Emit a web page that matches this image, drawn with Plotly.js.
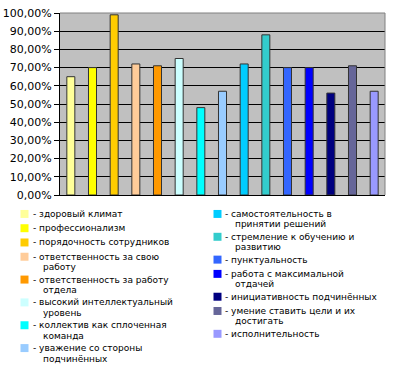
<!DOCTYPE html>
<html>
<head>
<meta charset="utf-8">
<script src="https://cdn.plot.ly/plotly-3.0.1.min.js"></script>
<style>html,body{margin:0;padding:0;background:#fff;}#chart{width:394px;height:375px;}</style>
</head>
<body>
<div id="chart"></div>
<script>
// Data
var categories = [
  "здоровый климат",
  "профессионализм",
  "порядочность сотрудников",
  "ответственность за свою работу",
  "ответственность за работу отдела",
  "высокий интеллектуальный уровень",
  "коллектив как сплоченная команда",
  "уважение со стороны подчинённых",
  "самостоятельность в принятии решений",
  "стремление к обучению и развитию",
  "пунктуальность",
  "работа с максимальной отдачей",
  "инициативность подчинённых",
  "умение ставить цели и их достигать",
  "исполнительность"
];
var values = [0.65, 0.70, 0.99, 0.72, 0.71, 0.75, 0.48, 0.57, 0.72, 0.88, 0.70, 0.70, 0.56, 0.71, 0.57];
var colors = ["#FFFF99", "#FFFF00", "#FFCC00", "#FFCC99", "#FF9900", "#CCFFFF", "#00FFFF", "#99CCFF",
              "#00CCFF", "#33CCCC", "#3366FF", "#0000FF", "#000080", "#666699", "#9999FF"];
// Legend label lines (as wrapped in the reference)
var legendLines = [
  ["- здоровый климат"],
  ["- профессионализм"],
  ["- порядочность сотрудников"],
  ["- ответственность за свою", "работу"],
  ["- ответственность за работу", "отдела"],
  ["- высокий интеллектуальный", "уровень"],
  ["- коллектив как сплоченная", "команда"],
  ["- уважение со стороны", "подчинённых"],
  ["- самостоятельность в", "принятии решений"],
  ["- стремление к обучению и", "развитию"],
  ["- пунктуальность"],
  ["- работа с максимальной", "отдачей"],
  ["- инициативность подчинённых"],
  ["- умение ставить цели и их", "достигать"],
  ["- исполнительность"]
];
var yTicks = [0, 0.1, 0.2, 0.3, 0.4, 0.5, 0.6, 0.7, 0.8, 0.9, 1.0];

// Layout geometry
var W = 394, H = 375, L = 60, R = 9, T = 12.5, B = 180;
var pw = W - L - R, ph = H - T - B;
function px2x(px) { return (px - L) / pw; }
function py2y(py) { return (H - B - py) / ph; }

var font = "DejaVu Sans, Verdana, sans-serif";
var annotations = [], shapes = [];

// plot border (top/right gray)
shapes.push({type: "line", xref: "paper", yref: "paper", x0: 0, x1: 1, y0: 1, y1: 1, line: {color: "#808080", width: 1}, layer: "above"});
shapes.push({type: "line", xref: "paper", yref: "paper", x0: 1, x1: 1, y0: 0, y1: 1, line: {color: "#808080", width: 1}, layer: "above"});

// custom two-column legend
var cols = [{n: 8, mx: 24.5, tx: 33, y0: 214}, {n: 7, mx: 217.5, tx: 225, y0: 214}];
var idx = 0;
cols.forEach(function (c) {
  var y = c.y0;
  for (var k = 0; k < c.n; k++, idx++) {
    var lines = legendLines[idx];
    shapes.push({type: "rect", xref: "paper", yref: "paper",
      x0: px2x(c.mx - 4), x1: px2x(c.mx + 4), y0: py2y(y + 4), y1: py2y(y - 4),
      fillcolor: colors[idx], line: {width: 0}});
    lines.forEach(function (t, j) {
      annotations.push({xref: "paper", yref: "paper", x: px2x(c.tx - 2 + (j ? 10 : 0)), y: py2y(y + j * 10.5),
        xanchor: "left", yanchor: "middle", showarrow: false, text: t,
        font: {family: font, size: 9, color: "#000"}});
    });
    y += 14.3 + 8.6 * (lines.length - 1);
  }
});

var trace = {
  type: "bar",
  x: categories,
  y: values,
  width: 0.37,
  marker: {color: colors, line: {color: "#333333", width: 1}},
  hoverinfo: "none"
};

var layout = {
  width: W, height: H,
  margin: {l: L, r: R, t: T, b: B, pad: 0},
  paper_bgcolor: "#ffffff",
  plot_bgcolor: "#C0C0C0",
  separators: ", ",
  showlegend: false,
  xaxis: {type: "category", categoryorder: "array", categoryarray: categories,
    range: [-0.5, categories.length - 0.5], showticklabels: false, ticks: "",
    showgrid: false, zeroline: false, showline: true, linecolor: "#000", linewidth: 1, fixedrange: true},
  yaxis: {range: [0, 1], tickvals: yTicks, tickformat: ".2%", ticks: "outside", ticklen: 5,
    tickcolor: "#000", showgrid: true, gridcolor: "#000", gridwidth: 1, zeroline: false,
    showline: true, linecolor: "#000", linewidth: 1,
    tickfont: {family: font, size: 11, color: "#000"}, fixedrange: true},
  shapes: shapes,
  annotations: annotations
};

Plotly.newPlot("chart", [trace], layout, {displayModeBar: false, staticPlot: true});
</script>
</body>
</html>
